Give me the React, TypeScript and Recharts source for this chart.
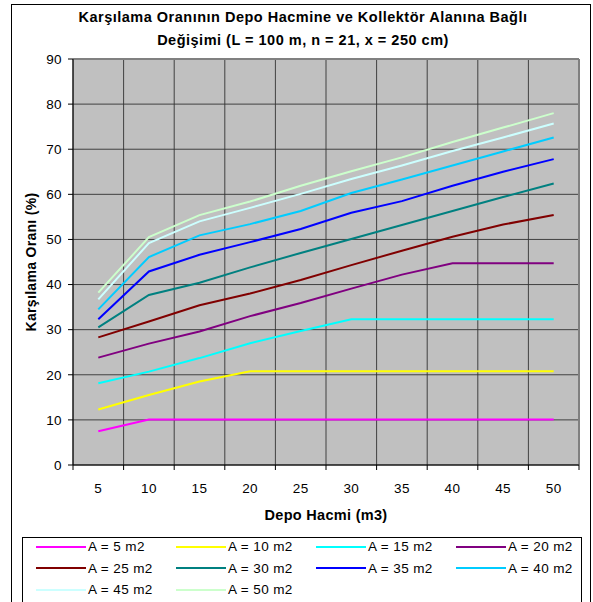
import { CartesianGrid, Legend, Line, LineChart, ReferenceLine, XAxis, YAxis } from "recharts";

const FONT = "'Liberation Sans', Arial, sans-serif";

// Depo hacmi (m3) ve her kollektör alanı için karşılama oranı (%)
const depoHacmi = [5, 10, 15, 20, 25, 30, 35, 40, 45, 50];
const a5 = [7.5, 10.1, 10.1, 10.1, 10.1, 10.1, 10.1, 10.1, 10.1, 10.1];
const a10 = [12.3, 15.5, 18.5, 20.8, 20.8, 20.8, 20.8, 20.8, 20.8, 20.8];
const a15 = [18.1, 20.7, 23.7, 27.0, 29.7, 32.3, 32.3, 32.3, 32.3, 32.3];
const a20 = [23.8, 26.9, 29.6, 33.0, 35.9, 39.1, 42.2, 44.7, 44.7, 44.7];
const a25 = [28.3, 31.8, 35.4, 38.0, 41.0, 44.3, 47.5, 50.6, 53.3, 55.4];
const a30 = [30.5, 37.7, 40.4, 43.8, 47.0, 50.1, 53.2, 56.3, 59.4, 62.4];
const a35 = [32.3, 42.9, 46.6, 49.4, 52.3, 55.9, 58.5, 61.9, 65.0, 67.8];
const a40 = [34.5, 46.1, 50.9, 53.4, 56.3, 60.3, 63.3, 66.4, 69.5, 72.6];
const a45 = [36.7, 49.2, 54.0, 57.0, 60.1, 63.4, 66.4, 69.6, 72.6, 75.7];
const a50 = [38.2, 50.5, 55.4, 58.4, 61.9, 65.1, 68.2, 71.6, 74.8, 78.0];
const yTicks = [0, 10, 20, 30, 40, 50, 60, 70, 80, 90];

const series = [
  { key: "a5", name: "A = 5 m2", values: a5, color: "#FF00FF" },
  { key: "a10", name: "A = 10 m2", values: a10, color: "#FFFF00" },
  { key: "a15", name: "A = 15 m2", values: a15, color: "#00FFFF" },
  { key: "a20", name: "A = 20 m2", values: a20, color: "#800080" },
  { key: "a25", name: "A = 25 m2", values: a25, color: "#800000" },
  { key: "a30", name: "A = 30 m2", values: a30, color: "#008080" },
  { key: "a35", name: "A = 35 m2", values: a35, color: "#0000FF" },
  { key: "a40", name: "A = 40 m2", values: a40, color: "#00CCFF" },
  { key: "a45", name: "A = 45 m2", values: a45, color: "#CCFFFF" },
  { key: "a50", name: "A = 50 m2", values: a50, color: "#CCFFCC" },
];

const data = depoHacmi.map((x, i) => {
  const row: Record<string, number> = { x };
  series.forEach((s) => (row[s.key] = s.values[i]));
  return row;
});

const W = 593;
const H = 620;
const M = { top: 59, right: 14, left: 0, bottom: 95 };
const Y_W = 73;
const X_H = 60;
const PLOT_BOTTOM = H - M.bottom - X_H;
const HALF_BAND = (W - M.right - M.left - Y_W) / depoHacmi.length / 2;
const TICK_FONT = { fontSize: 13.5, letterSpacing: 0.4, fontFamily: FONT, fill: "#000" };

// Excel tarzı: etiket bant ortasında, çentik bant sınırında
function XTick(props: any) {
  const { x, payload, index } = props;
  const last = index === depoHacmi.length - 1;
  return (
    <g>
      <line x1={x - HALF_BAND} x2={x - HALF_BAND} y1={PLOT_BOTTOM} y2={PLOT_BOTTOM + 5} stroke="#000" />
      {last && <line x1={x + HALF_BAND} x2={x + HALF_BAND} y1={PLOT_BOTTOM} y2={PLOT_BOTTOM + 5} stroke="#000" />}
      <text x={x} y={PLOT_BOTTOM + 23} textAnchor="middle" dominantBaseline="central" {...TICK_FONT}>
        {payload.value}
      </text>
    </g>
  );
}

function LegendBox({ payload }: any) {
  // seri sırasını koru (Recharts varsayılan olarak ada göre sıralıyor)
  const order = series.map((s) => s.name);
  const items = [...(payload || [])].sort((a: any, b: any) => order.indexOf(a.value) - order.indexOf(b.value));
  return (
    <div style={{ border: "1px solid #000", height: 80, boxSizing: "border-box", background: "#fff" }}>
      <div
        style={{
          display: "grid",
          gridTemplateColumns: "repeat(4, 140px)",
          gridAutoRows: "21.5px",
          paddingLeft: 13,
          marginTop: -2,
        }}
      >
        {items.map((p: any) => (
          <div
            key={p.value}
            style={{ display: "flex", alignItems: "center", fontSize: 13.5, letterSpacing: 0.4, fontFamily: FONT, color: "#000" }}
          >
            <span style={{ display: "inline-block", width: 50, height: 2, background: p.color, marginRight: 2 }} />
            {p.value}
          </div>
        ))}
      </div>
    </div>
  );
}

export default function App() {
  return (
    <div style={{ position: "absolute", left: 0, top: 0, width: W, height: 602, overflow: "hidden", background: "#fff" }}>
      <div style={{ position: "absolute", left: 11, top: 4, width: 580, height: 640, border: "1px solid #000", boxSizing: "border-box" }} />
      <div
        style={{
          position: "absolute",
          left: 13,
          top: 6,
          width: 580,
          textAlign: "center",
          fontFamily: FONT,
          fontWeight: "bold",
          fontSize: 14.5,
          letterSpacing: 0.5,
          lineHeight: "23px",
        }}
      >
        Karşılama Oranının Depo Hacmine ve Kollektör Alanına Bağlı
        <br />
        Değişimi (L = 100 m, n = 21, x = 250 cm)
      </div>
      <div style={{ position: "absolute", left: 0, top: 0 }}>
        <LineChart width={W} height={H} data={data} margin={M}>
          <CartesianGrid
            fill="#C0C0C0"
            stroke="#333"
            strokeOpacity={0.9}
            verticalCoordinatesGenerator={({ offset }: any) =>
              depoHacmi.map((_, i) => offset.left + (i * offset.width) / depoHacmi.length)
            }
          />
          <XAxis
            dataKey="x"
            type="number"
            domain={[2.5, 52.5]}
            ticks={depoHacmi}
            interval={0}
            height={X_H}
            tickLine={false}
            stroke="#000"
            tick={<XTick />}
            label={{
              content: ({ viewBox }: any) => (
                <text
                  x={viewBox.x + viewBox.width / 2}
                  y={PLOT_BOTTOM + 50}
                  textAnchor="middle"
                  dominantBaseline="central"
                  fontSize={14.5}
                  letterSpacing={0.3}
                  fontWeight="bold"
                  fontFamily={FONT}
                  fill="#000"
                >
                  Depo Hacmi (m3)
                </text>
              ),
            }}
          />
          <YAxis
            domain={[0, 90]}
            ticks={yTicks}
            interval={0}
            width={Y_W}
            tickSize={5}
            tickMargin={6}
            stroke="#000"
            tick={TICK_FONT}
            label={{
              content: ({ viewBox }: any) => {
                const cx = 30.5;
                const cy = viewBox.y + viewBox.height / 2;
                return (
                  <text
                    x={cx}
                    y={cy}
                    transform={`rotate(-90 ${cx} ${cy})`}
                    textAnchor="middle"
                    dominantBaseline="central"
                    fontSize={14}
                    letterSpacing={0.3}
                    fontWeight="bold"
                    fontFamily={FONT}
                    fill="#000"
                  >
                    Karşılama Oranı (%)
                  </text>
                );
              },
            }}
          />
          <ReferenceLine y={90} stroke="#808080" strokeWidth={2} />
          <ReferenceLine x={52.5} stroke="#808080" strokeWidth={2} />
          {series.map((s) => (
            <Line
              key={s.key}
              dataKey={s.key}
              name={s.name}
              stroke={s.color}
              strokeWidth={2}
              dot={false}
              type="linear"
              isAnimationActive={false}
            />
          ))}
          <Legend
            layout="horizontal"
            verticalAlign="middle"
            align="center"
            wrapperStyle={{ left: 22, top: 537, width: 560 }}
            content={<LegendBox />}
          />
        </LineChart>
      </div>
    </div>
  );
}
